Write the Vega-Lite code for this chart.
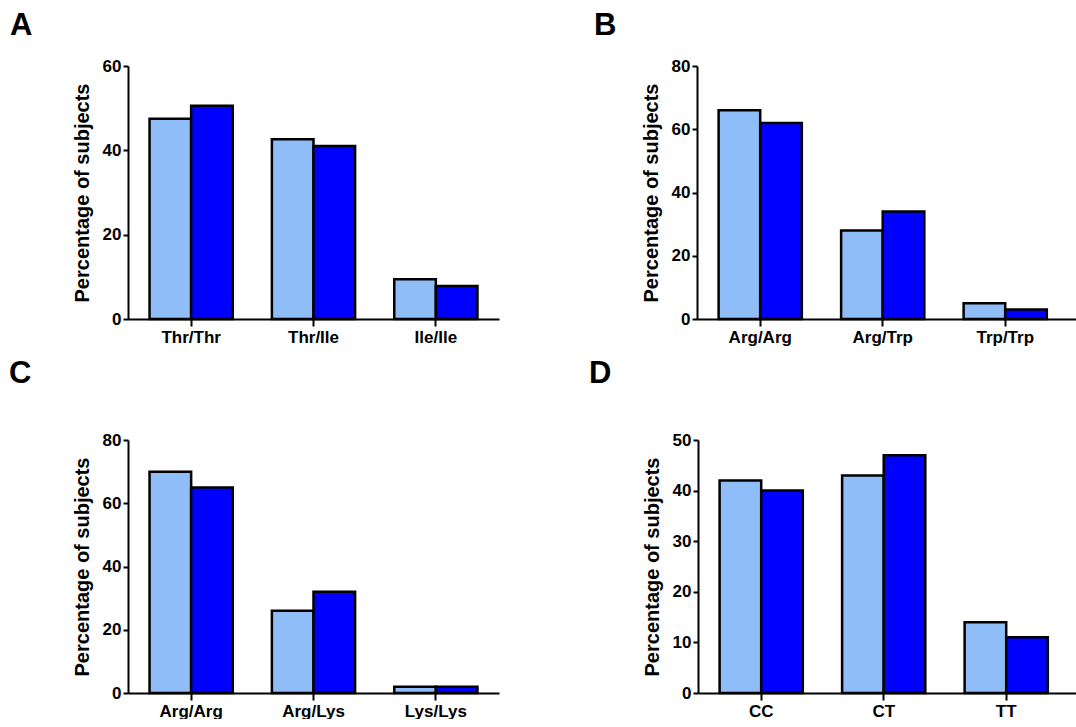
{
  "$schema": "https://vega.github.io/schema/vega-lite/v6.json",
  "padding": {"left": 9, "top": 10, "right": 0, "bottom": 0},
  "background": "white",
  "data": {"values": [
    {"panel": "A", "genotype": "Thr/Thr", "group": "Controls", "pct": 47.5},
    {"panel": "A", "genotype": "Thr/Thr", "group": "Patients", "pct": 50.6},
    {"panel": "A", "genotype": "Thr/Ile", "group": "Controls", "pct": 42.6},
    {"panel": "A", "genotype": "Thr/Ile", "group": "Patients", "pct": 41.0},
    {"panel": "A", "genotype": "Ile/Ile", "group": "Controls", "pct": 9.4},
    {"panel": "A", "genotype": "Ile/Ile", "group": "Patients", "pct": 7.8},
    {"panel": "B", "genotype": "Arg/Arg", "group": "Controls", "pct": 66},
    {"panel": "B", "genotype": "Arg/Arg", "group": "Patients", "pct": 62},
    {"panel": "B", "genotype": "Arg/Trp", "group": "Controls", "pct": 28},
    {"panel": "B", "genotype": "Arg/Trp", "group": "Patients", "pct": 34},
    {"panel": "B", "genotype": "Trp/Trp", "group": "Controls", "pct": 5},
    {"panel": "B", "genotype": "Trp/Trp", "group": "Patients", "pct": 3},
    {"panel": "C", "genotype": "Arg/Arg", "group": "Controls", "pct": 70},
    {"panel": "C", "genotype": "Arg/Arg", "group": "Patients", "pct": 65},
    {"panel": "C", "genotype": "Arg/Lys", "group": "Controls", "pct": 26},
    {"panel": "C", "genotype": "Arg/Lys", "group": "Patients", "pct": 32},
    {"panel": "C", "genotype": "Lys/Lys", "group": "Controls", "pct": 2},
    {"panel": "C", "genotype": "Lys/Lys", "group": "Patients", "pct": 2},
    {"panel": "D", "genotype": "CC", "group": "Controls", "pct": 42},
    {"panel": "D", "genotype": "CC", "group": "Patients", "pct": 40},
    {"panel": "D", "genotype": "CT", "group": "Controls", "pct": 43},
    {"panel": "D", "genotype": "CT", "group": "Patients", "pct": 47},
    {"panel": "D", "genotype": "TT", "group": "Controls", "pct": 14},
    {"panel": "D", "genotype": "TT", "group": "Patients", "pct": 11}
  ]},
  "vconcat": [
    {
      "spacing": 95,
      "hconcat": [
        {
          "title": {"text": "A", "dx": -62, "offset": 15},
          "width": 371, "height": 253,
          "transform": [{"filter": "datum.panel === 'A'"}],
          "mark": {"type": "bar", "stroke": "black", "strokeWidth": 2.5},
          "encoding": {
            "x": {"field": "genotype", "type": "nominal", "sort": ["Thr/Thr", "Thr/Ile", "Ile/Ile"], "title": null, "scale": {"paddingInner": 0.32, "paddingOuter": 0.176}},
            "xOffset": {"field": "group", "type": "nominal", "sort": ["Controls", "Patients"]},
            "y": {"field": "pct", "type": "quantitative", "title": "Percentage of subjects", "scale": {"domain": [0, 60], "nice": false}, "axis": {"values": [0, 20, 40, 60]}},
            "color": {"field": "group", "type": "nominal", "scale": {"domain": ["Controls", "Patients"], "range": ["#8fbdf7", "#0000ff"]}, "legend": null}
          }
        },
        {
          "title": {"text": "B", "dx": -47, "offset": 15},
          "width": 380, "height": 253,
          "transform": [{"filter": "datum.panel === 'B'"}],
          "mark": {"type": "bar", "stroke": "black", "strokeWidth": 2.5},
          "encoding": {
            "x": {"field": "genotype", "type": "nominal", "sort": ["Arg/Arg", "Arg/Trp", "Trp/Trp"], "title": null, "scale": {"paddingInner": 0.32, "paddingOuter": 0.211, "align": 0.418}},
            "xOffset": {"field": "group", "type": "nominal", "sort": ["Controls", "Patients"]},
            "y": {"field": "pct", "type": "quantitative", "title": "Percentage of subjects", "scale": {"domain": [0, 80], "nice": false}, "axis": {"values": [0, 20, 40, 60, 80]}},
            "color": {"field": "group", "type": "nominal", "scale": {"domain": ["Controls", "Patients"], "range": ["#8fbdf7", "#0000ff"]}, "legend": null}
          }
        }
      ]
    },
    {
      "spacing": 90,
      "hconcat": [
        {
          "title": {"text": "C", "dx": -63, "offset": 41},
          "width": 371, "height": 253,
          "transform": [{"filter": "datum.panel === 'C'"}],
          "mark": {"type": "bar", "stroke": "black", "strokeWidth": 2.5},
          "encoding": {
            "x": {"field": "genotype", "type": "nominal", "sort": ["Arg/Arg", "Arg/Lys", "Lys/Lys"], "title": null, "scale": {"paddingInner": 0.32, "paddingOuter": 0.176}},
            "xOffset": {"field": "group", "type": "nominal", "sort": ["Controls", "Patients"]},
            "y": {"field": "pct", "type": "quantitative", "title": "Percentage of subjects", "scale": {"domain": [0, 80], "nice": false}, "axis": {"values": [0, 20, 40, 60, 80]}},
            "color": {"field": "group", "type": "nominal", "scale": {"domain": ["Controls", "Patients"], "range": ["#8fbdf7", "#0000ff"]}, "legend": null}
          }
        },
        {
          "title": {"text": "D", "dx": -53, "offset": 41},
          "width": 380, "height": 253,
          "transform": [{"filter": "datum.panel === 'D'"}],
          "mark": {"type": "bar", "stroke": "black", "strokeWidth": 2.5},
          "encoding": {
            "x": {"field": "genotype", "type": "nominal", "sort": ["CC", "CT", "TT"], "title": null, "scale": {"paddingInner": 0.32, "paddingOuter": 0.211, "align": 0.418}},
            "xOffset": {"field": "group", "type": "nominal", "sort": ["Controls", "Patients"]},
            "y": {"field": "pct", "type": "quantitative", "title": "Percentage of subjects", "scale": {"domain": [0, 50], "nice": false}, "axis": {"values": [0, 10, 20, 30, 40, 50]}},
            "color": {"field": "group", "type": "nominal", "scale": {"domain": ["Controls", "Patients"], "range": ["#8fbdf7", "#0000ff"]}, "legend": null}
          }
        }
      ]
    }
  ],
  "spacing": 13,
  "config": {
    "view": {"stroke": null},
    "axis": {"domainColor": "black", "domainWidth": 2, "tickColor": "black", "tickWidth": 2, "grid": false, "labelFont": "Liberation Sans", "labelFontWeight": "bold", "labelFontSize": 17, "labelColor": "black", "titleFont": "Liberation Sans", "titleFontWeight": "bold", "titleFontSize": 20, "titleColor": "black"},
    "axisX": {"tickSize": 7, "labelPadding": 3, "labelAngle": 0},
    "axisY": {"tickSize": 5, "labelPadding": 2, "titlePadding": 10},
    "title": {"font": "Liberation Sans", "fontWeight": "bold", "fontSize": 31, "anchor": "start", "color": "black"}
  }
}
